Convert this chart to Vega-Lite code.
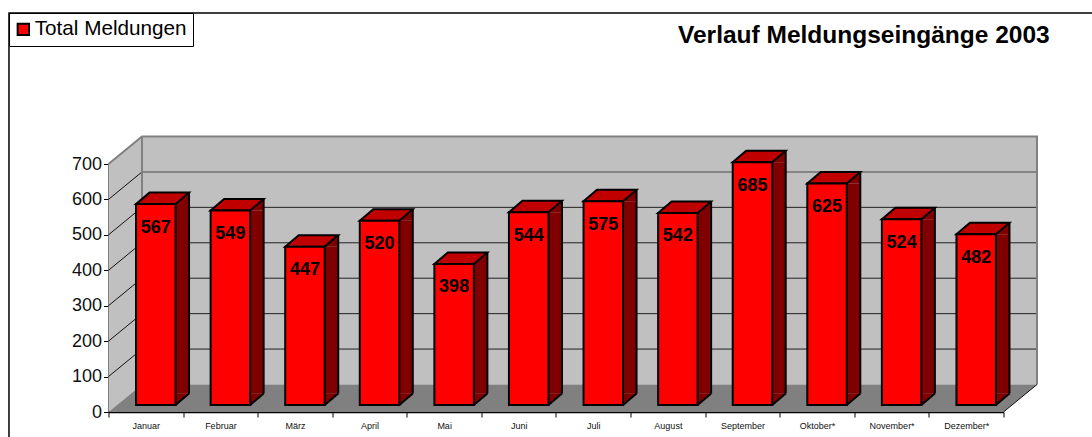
{
"$schema":"https://vega.github.io/schema/vega-lite/v6.json",
"width":895,"height":248,
"autosize":{"type":"none"},
"padding":{"left":108.5,"top":164,"right":88.5,"bottom":25},
"background":"white",
"title":{"text":"Verlauf Meldungseingänge 2003","anchor":"start","frame":"group","dx":569.5,"offset":-38,"fontSize":24.5,"font":"Liberation Sans","fontWeight":"bold","color":"#000000"},
"datasets":{
"bars":[
{"month":"Januar","value":567,"series":"Total Meldungen"},
{"month":"Februar","value":549,"series":"Total Meldungen"},
{"month":"März","value":447,"series":"Total Meldungen"},
{"month":"April","value":520,"series":"Total Meldungen"},
{"month":"Mai","value":398,"series":"Total Meldungen"},
{"month":"Juni","value":544,"series":"Total Meldungen"},
{"month":"Juli","value":575,"series":"Total Meldungen"},
{"month":"August","value":542,"series":"Total Meldungen"},
{"month":"September","value":685,"series":"Total Meldungen"},
{"month":"Oktober*","value":625,"series":"Total Meldungen"},
{"month":"November*","value":524,"series":"Total Meldungen"},
{"month":"Dezember*","value":482,"series":"Total Meldungen"}],
"ticks":[{"tick":100},{"tick":200},{"tick":300},{"tick":400},{"tick":500},{"tick":600}],
"anchor":[{"month":"Januar","tick":0}]
},
"data":{"name":"bars"},
"encoding":{
"x":{"field":"month","type":"nominal","sort":null,"title":null,"scale":{"domain":["Januar","Februar","März","April","Mai","Juni","Juli","August","September","Oktober*","November*","Dezember*"],"paddingInner":0,"paddingOuter":0}},
"y":{"field":"value","type":"quantitative","title":null,"scale":{"domain":[0,700],"nice":false}}
},
"layer":[
{"data":{"name":"anchor"},"mark":{"type":"point","size":4,"filled":true,"opacity":1,"fill":"#c0c0c0","strokeWidth":0,"shape":"M-3.8,-27.5 L891.2,-27.5 L891.2,-275.5 L-3.8,-275.5 Z"},"encoding":{"y":{"field":"tick","type":"quantitative"}}},
{"data":{"name":"anchor"},"mark":{"type":"point","size":4,"filled":true,"opacity":1,"fill":"#c0c0c0","strokeWidth":0,"shape":"M-37.3,0 L-3.8,-27.5 L-3.8,-275.5 L-37.3,-248 Z"},"encoding":{"y":{"field":"tick","type":"quantitative"}}},
{"data":{"name":"anchor"},"mark":{"type":"point","size":4,"filled":true,"opacity":1,"fill":"#808080","strokeWidth":0,"shape":"M-37.3,0 L-3.8,-27.5 L891.2,-27.5 L857.7,0 Z"},"encoding":{"y":{"field":"tick","type":"quantitative"}}},
{"data":{"name":"ticks"},"mark":{"type":"point","size":4,"filled":false,"opacity":1,"fill":"transparent","stroke":"#111111","strokeWidth":1,"shape":"M-37.3,0 L-3.8,-27.5"},"encoding":{"x":{"datum":"Januar"},"y":{"field":"tick","type":"quantitative"}}},
{"data":{"name":"ticks"},"transform":[{"filter":"datum.tick<600"}],"mark":{"type":"point","size":4,"filled":false,"opacity":1,"fill":"transparent","stroke":"#222222","strokeWidth":1,"shape":"M-3.8,-27.5 L891.2,-27.5"},"encoding":{"x":{"datum":"Januar"},"y":{"field":"tick","type":"quantitative"}}},
{"data":{"name":"ticks"},"transform":[{"filter":"datum.tick==600"}],"mark":{"type":"point","size":4,"filled":false,"opacity":1,"fill":"transparent","stroke":"#707070","strokeWidth":1.5,"shape":"M-3.8,-27.5 L891.2,-27.5"},"encoding":{"x":{"datum":"Januar"},"y":{"field":"tick","type":"quantitative"}}},
{"data":{"name":"anchor"},"mark":{"type":"point","size":4,"filled":false,"opacity":1,"fill":"transparent","stroke":"#808080","strokeWidth":2,"shape":"M-37.3,-248 L-3.8,-275.5 L891.2,-275.5 L891.2,-27.5 M-3.8,-275.5 L-3.8,-27.5"},"encoding":{"y":{"field":"tick","type":"quantitative"}}},
{"data":{"name":"anchor"},"mark":{"type":"point","size":4,"filled":false,"opacity":1,"fill":"transparent","stroke":"#111111","strokeWidth":1,"shape":"M857.7,0 L891.2,-27.5"},"encoding":{"y":{"field":"tick","type":"quantitative"}}},
{"data":{"name":"anchor"},"mark":{"type":"point","size":4,"filled":false,"opacity":1,"fill":"transparent","stroke":"#000000","strokeWidth":1.5,"shape":"M-136.8,25 L-136.8,-399 L950,-399"},"encoding":{"y":{"field":"tick","type":"quantitative"}}},
{"mark":{"type":"bar","size":13.5,"fill":"#800000","strokeWidth":0,"xOffset":36.5,"yOffset":-7,"y2Offset":-18.5},"encoding":{"y2":{"datum":0}}},
{"mark":{"type":"point","size":4,"filled":true,"opacity":1,"fill":"#800000","strokeWidth":0,"shape":"M29.75,-7 L43.25,-18.5 L29.75,-18.5 Z"},"encoding":{"y":{"datum":0}}},
{"mark":{"type":"point","size":4,"filled":true,"opacity":1,"fill":"#800000","strokeWidth":0,"shape":"M29.75,-7 L43.25,-18.5 L43.25,-7 Z"}},
{"mark":{"type":"rule","stroke":"#000000","strokeWidth":2,"xOffset":43.25,"yOffset":-18.5,"y2Offset":-18.5},"encoding":{"y2":{"datum":0}}},
{"mark":{"type":"point","size":4,"filled":false,"opacity":1,"fill":"transparent","stroke":"#000000","strokeWidth":2,"shape":"M29.75,-7 L43.25,-18.5"},"encoding":{"y":{"datum":0}}},
{"mark":{"type":"point","size":4,"filled":true,"opacity":1,"fill":"#c00000","stroke":"#000000","strokeWidth":2,"shape":"M-9.75,-7 L29.75,-7 L43.25,-18.5 L3.75,-18.5 Z"}},
{"mark":{"type":"bar","size":39.5,"stroke":"#000000","strokeWidth":2,"xOffset":10,"yOffset":-7,"y2Offset":-7},
 "encoding":{"y2":{"datum":0},"color":{"field":"series","type":"nominal","title":null,"scale":{"domain":["Total Meldungen"],"range":["#ff0000"]},
 "legend":{"orient":"none","legendX":-99.5,"legendY":-151,"direction":"vertical","title":null,"symbolType":"square","symbolSize":130,"symbolStrokeColor":"#000000","symbolStrokeWidth":2,"labelFontSize":20.7,"labelFont":"Liberation Sans","labelColor":"#000000","strokeColor":"#000000","fillColor":"#ffffff","padding":6,"labelOffset":1,"symbolOffset":-2}}}},
{"mark":{"type":"text","font":"Liberation Sans","fontWeight":"bold","fontSize":18,"color":"#000000","xOffset":10,"yOffset":16.5,"baseline":"middle"},"encoding":{"text":{"field":"value","type":"quantitative"}}}
],
"config":{
"view":{"stroke":null},
"axisX":{"tickBand":"extent","labelFontSize":9,"labelFont":"Liberation Sans","labelColor":"#111111","labelAngle":0,"domainColor":"#000000","domainWidth":1.5,"tickColor":"#000000","tickWidth":1,"tickSize":5,"labelPadding":4,"grid":false,"title":null},
"axisY":{"labelFontSize":18,"labelFont":"Liberation Sans","labelColor":"#111111","domainColor":"#000000","domainWidth":1.5,"tickColor":"#000000","tickWidth":1,"tickSize":5,"labelPadding":2,"grid":false,"tickCount":8,"title":null}
}
}
